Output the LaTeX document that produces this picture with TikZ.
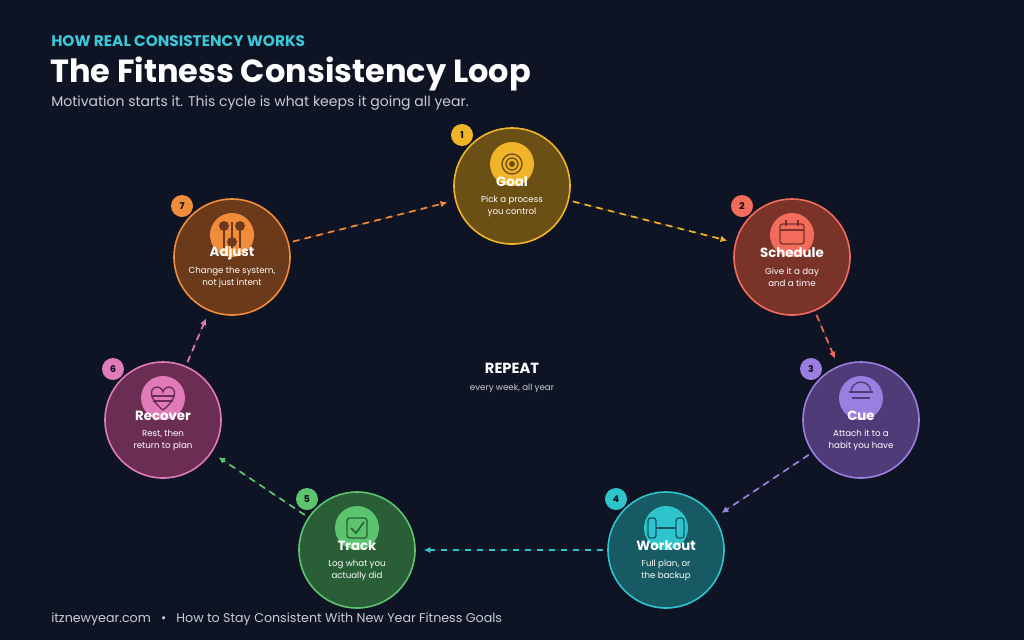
\documentclass[tikz,border=0pt]{standalone}
\usepackage{fontspec}
\setmainfont{Poppins}
\usetikzlibrary{arrows.meta}
\definecolor{bg}{HTML}{0F1424}
\definecolor{cyanT}{HTML}{3CC8D8}
\definecolor{sub}{HTML}{C8CCD6}
\begin{document}
\begin{tikzpicture}[x=0.75pt,y=-0.75pt,
  stage/.style={circle,minimum size=116*0.75pt,inner sep=0pt,line width=1.2pt},
  badge/.style={circle,minimum size=22*0.75pt,inner sep=0pt,font=\fontsize{7}{8}\selectfont\bfseries,text=bg!70!black},
  ic/.style={circle,minimum size=44*0.75pt,inner sep=0pt},
  ttl/.style={font=\fontsize{10}{11}\selectfont\bfseries,text=white},
  dsc/.style={font=\fontsize{6.5}{9}\selectfont,text=white!80,align=center},
  lnk/.style={dashed,dash pattern=on 5pt off 4pt,line width=1.3pt,-{Latex[length=5pt,width=5pt]},shorten >=6pt,shorten <=3pt}]
\fill[bg] (0,0) rectangle (1024,640);
\useasboundingbox (0,0) rectangle (1024,640);
\node[anchor=west,inner sep=0pt,text=cyanT,font=\fontsize{11.5}{13}\selectfont\bfseries] (kick) at (51,41) {HOW REAL CONSISTENCY WORKS};
\node[anchor=west,inner sep=0pt,text=white,font=\fontsize{24}{26}\selectfont\bfseries] (title) at (50,74) {The Fitness Consistency Loop};
\node[anchor=west,inner sep=0pt,text=sub,font=\fontsize{10.5}{12}\selectfont] (subt) at (51,103) {Motivation starts it. This cycle is what keeps it going all year.};
\node[text=white,font=\fontsize{11}{12}\selectfont\bfseries] (rep) at (512,368) {REPEAT};
\node[text=sub,font=\fontsize{6.5}{8}\selectfont] (rep2) at (512,388) {every week, all year};
\node[anchor=west,inner sep=0pt,text=sub,font=\fontsize{9.5}{11}\selectfont] (foot) at (51,619) {itznewyear.com \ \ {\textbullet} \ \ How to Stay Consistent With New Year Fitness Goals};
% stages
\def\stage#1#2#3#4#5#6#7#8#9{%
  \definecolor{c#1}{HTML}{#4}\definecolor{f#1}{HTML}{#5}
  \node[stage,draw=c#1,fill=f#1] (#1) at (#2,#3) {};
  \node[badge,fill=c#1] (#1b) at (#2-50,#3-51) {#6};
  \node[ic,fill=c#1] (#1i) at (#2,#3-22) {};
  \node[ttl] (#1t) at (#2,#3-4) {#7};
  \node[dsc] (#1d) at (#2,#3+20) {#8\\#9};}
\stage{goal}{512}{186}{F0B429}{6B5016}{1}{Goal}{Pick a process}{you control}
\stage{sched}{792}{257}{F26B5B}{7A3329}{2}{Schedule}{Give it a day}{and a time}
\stage{cue}{861}{420}{9B7FE0}{4E3B78}{3}{Cue}{Attach it to a}{habit you have}
\stage{work}{666}{550}{2EC4CC}{175A63}{4}{Workout}{Full plan, or}{the backup}
\stage{track}{357}{550}{5CC46E}{295E37}{5}{Track}{Log what you}{actually did}
\stage{recov}{163}{420}{E07AB8}{6B2D52}{6}{Recover}{Rest, then}{return to plan}
\stage{adj}{232}{257}{F08C3A}{6B3A1A}{7}{Adjust}{Change the system,}{not just intent}
% icons
\draw[fgoal,line width=1pt] (goali) circle (10*0.75pt) (goali) circle (6*0.75pt);
\fill[fgoal] (goali) circle (3*0.75pt);
\draw[fsched,line width=1pt,rounded corners=2pt] (780,224) rectangle (804,244);
\draw[fsched,line width=1pt] (780,230)--(804,230) (786,220)--(786,226) (798,220)--(798,226);
\draw[fcue,line width=1pt] (849,392)--(873,392) (852,398)--(870,398);
\draw[fcue,line width=1pt] (851,392) arc (180:360:10);
\draw[fwork,line width=1pt,rounded corners=2pt] (648,518) rectangle (656,538) (676,518) rectangle (684,538);
\draw[fwork,line width=1.5pt] (656,528)--(676,528);
\draw[ftrack,line width=1pt,rounded corners=2pt] (347,518) rectangle (367,538);
\draw[ftrack,line width=1.2pt] (351,528)--(356,533)--(364,522);
\draw[frecov,line width=1pt] (163,410) .. controls (150,400) and (148,388) .. (157,387) .. controls (161,387) and (163,391) .. (163,392) .. controls (163,391) and (165,387) .. (169,387) .. controls (178,388) and (176,400) .. (163,410);
\draw[frecov,line width=1pt] (151,396)--(175,396) (153,401)--(173,401);
\fill[fadj] (224,226) circle (5) (240,226) circle (5) (232,242) circle (5);
\draw[fadj,line width=1.2pt] (224,222)--(224,248) (240,222)--(240,248) (232,222)--(232,248);
% links
\draw[lnk,draw=cgoal,fill=cgoal] (goal) -- (sched);
\draw[lnk,draw=csched,fill=csched] (sched) -- (cue);
\draw[lnk,draw=ccue,fill=ccue] (cue) -- (work);
\draw[lnk,draw=cwork,fill=cwork] (work) -- (track);
\draw[lnk,draw=ctrack,fill=ctrack] (track) -- (recov);
\draw[lnk,draw=crecov,fill=crecov] (recov) -- (adj);
\draw[lnk,draw=cadj,fill=cadj] (adj) -- (goal);
\end{tikzpicture}
\end{document}
